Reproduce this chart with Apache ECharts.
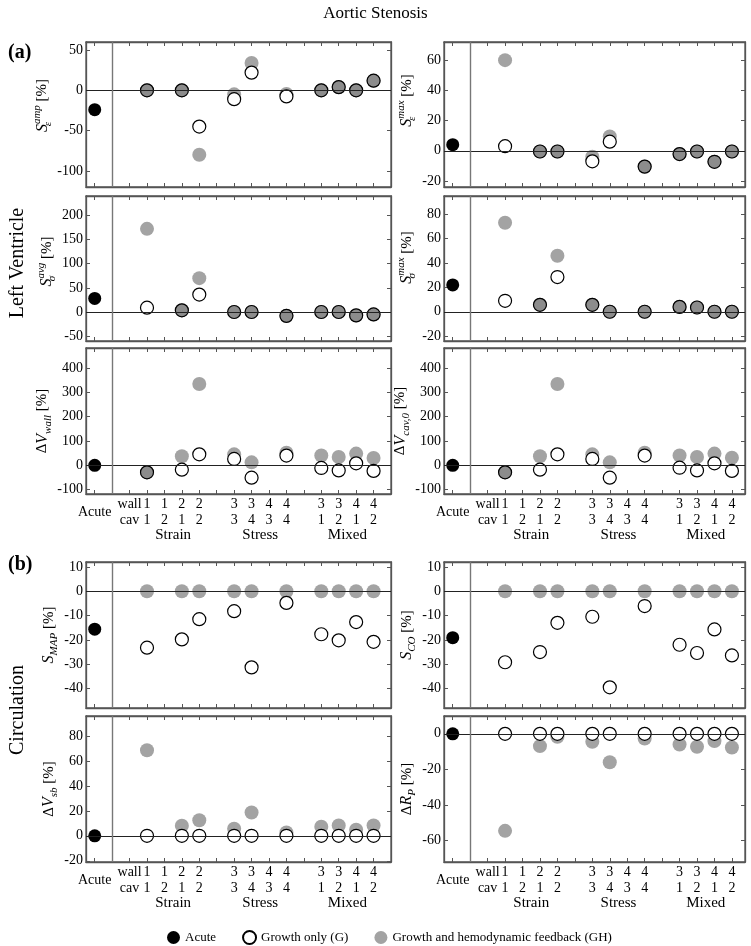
<!DOCTYPE html>
<html><head><meta charset="utf-8">
<script src="https://cdn.jsdelivr.net/npm/echarts@6/dist/echarts.min.js"></script>
<style>html,body{margin:0;padding:0;background:#fff}#c{width:751px;height:946px}</style>
</head><body><div id="c"></div>
<script>
// ---------- data ----------
const wallLabels = ['1','1','2','2','3','3','4','4','3','3','4','4'];
const cavLabels  = ['1','2','1','2','3','4','3','4','1','2','1','2'];
const groupNames = ['Strain','Stress','Mixed'];
const legendNames = ['Acute','Growth only (G)','Growth and hemodynamic feedback (GH)'];

// order: (1,1)(1,2)(2,1)(2,2) (3,3)(3,4)(4,3)(4,4) (3,1)(3,2)(4,1)(4,2)
const seAmpAcute = -24;
const seAmpG  = [0,null,0,-45,-11,22,null,-7.5,0,4,0,12];
const seAmpGH = [0,null,0,-80,-5,34,null,-4.5,0,4,0,12];
const seAmpTicks = [-100,-50,0,50];

const seMaxAcute = 4;
const seMaxG  = [3,null,-0.5,-0.5,-7,6,null,-10.5,-2.2,-0.5,-7.3,-0.5];
const seMaxGH = [60,null,-0.5,-0.5,-4,9.5,null,-10.5,-2.2,-0.5,-7.3,-0.5];
const seMaxTicks = [-20,0,20,40,60];

const ssAvgAcute = 28;
const ssAvgG  = [9,null,3.5,36,0,0,null,-8,0,0,-7,-5];
const ssAvgGH = [172,null,3.5,70,0,0,null,-8,0,0,-7,-5];
const ssAvgTicks = [-50,0,50,100,150,200];

const ssMaxAcute = 22;
const ssMaxG  = [9,null,5.7,28.5,5.7,0,null,0,4,3.5,0,0];
const ssMaxGH = [73,null,5.7,46,5.7,0,null,0,4,3.5,0,0];
const ssMaxTicks = [-20,0,20,40,60,80];

const dVwallAcute = 0;
const dVwallG  = [-29,null,-18,45,26,-51,null,40,-11,-21,8,-23];
const dVwallGH = [-29,null,37,334,45,12,null,52,40,34,48,30];
const dVwallTicks = [-100,0,100,200,300,400];

const dVcavAcute = 0;
const dVcavG  = [-29,null,-18,45,26,-51,null,40,-10,-21,8,-23];
const dVcavGH = [-29,null,37,334,45,12,null,52,40,34,48,31];
const dVcavTicks = [-100,0,100,200,300,400];

const sMapAcute = -15.6;
const sMapG  = [-23.2,null,-19.8,-11.5,-8.2,-31.3,null,-4.8,-17.7,-20.2,-12.7,-20.8];
const sMapGH = [0,null,0,0,0,0,null,0,0,0,0,0];
const sMapTicks = [-40,-30,-20,-10,0,10];

const sCoAcute = -19.1;
const sCoG  = [-29.2,null,-25,-13,-10.5,-39.5,null,-6.1,-22,-25.4,-15.7,-26.4];
const sCoGH = [0,null,0,0,0,0,null,0,0,0,0,0];
const sCoTicks = [-40,-30,-20,-10,0,10];

const dVsbAcute = 0;
const dVsbG  = [0,null,0,0,0,0,null,0,0,0,0,0];
const dVsbGH = [68.6,null,8,12.5,5.6,18.7,null,2.7,7.2,8.3,4.8,8.3];
const dVsbTicks = [-20,0,20,40,60,80];

const dRpAcute = 0;
const dRpG  = [0,null,0,0,0,0,null,0,0,0,0,0];
const dRpGH = [-54.5,null,-6.9,-1.7,-4.5,-16,null,-2.6,-6,-7.3,-4.1,-7.7];
const dRpTicks = [-60,-40,-20,0];

// ---------- layout ----------
const FONT = "'Liberation Serif', 'DejaVu Serif', serif";
const rows = [{top:42,h:145},{top:196,h:145},{top:348,h:146},{top:562,h:146},{top:716,h:146}];
const cols = [{left:86,w:305,max:17},{left:444,w:301,max:16.75}];
const xPosOf = i => 3 + i + Math.floor(i/4);

const panels = [
  {r:0,c:0,name:'{it|S}{sb0|ε}{sp|amp}{rm| [%]}',shift:18,min:-120,max:60,ticks:seAmpTicks,acute:seAmpAcute,g:seAmpG,gh:seAmpGH},
  {r:0,c:1,name:'{it|S}{sb0|ε}{sp|max}{rm| [%]}',shift:28,min:-24,max:72,ticks:seMaxTicks,acute:seMaxAcute,g:seMaxG,gh:seMaxGH},
  {r:1,c:0,name:'{it|S}{sb0|σ}{sp|avg}{rm| [%]}',shift:14,min:-60,max:240,ticks:ssAvgTicks,acute:ssAvgAcute,g:ssAvgG,gh:ssAvgGH},
  {r:1,c:1,name:'{it|S}{sb0|σ}{sp|max}{rm| [%]}',shift:22,min:-24,max:95,ticks:ssMaxTicks,acute:ssMaxAcute,g:ssMaxG,gh:ssMaxGH},
  {r:2,c:0,name:'{rm|Δ}{it|V}{sb|wall}{rm| [%]}',shift:0,min:-118,max:482,ticks:dVwallTicks,acute:dVwallAcute,g:dVwallG,gh:dVwallGH},
  {r:2,c:1,name:'{rm|Δ}{it|V}{sb|cav,0}{rm| [%]}',shift:0,min:-118,max:482,ticks:dVcavTicks,acute:dVcavAcute,g:dVcavG,gh:dVcavGH},
  {r:3,c:0,name:'{it|S}{sb|MAP}{rm| [%]}',shift:0,min:-48,max:12,ticks:sMapTicks,acute:sMapAcute,g:sMapG,gh:sMapGH},
  {r:3,c:1,name:'{it|S}{sb|CO}{rm| [%]}',shift:0,min:-48,max:12,ticks:sCoTicks,acute:sCoAcute,g:sCoG,gh:sCoGH},
  {r:4,c:0,name:'{rm|Δ}{it|V}{sb|sb}{rm| [%]}',shift:0,min:-21,max:96,ticks:dVsbTicks,acute:dVsbAcute,g:dVsbG,gh:dVsbGH},
  {r:4,c:1,name:'{rm|Δ}{it|R}{sb|P}{rm| [%]}',shift:0,min:-72,max:10,ticks:dRpTicks,acute:dRpAcute,g:dRpG,gh:dRpGH}
];

const nameRich = {
  it:{fontFamily:FONT,fontStyle:'italic',fontSize:16,lineHeight:22,color:'#000'},
  rm:{fontFamily:FONT,fontSize:15,lineHeight:22,color:'#000'},
  sb:{fontFamily:FONT,fontStyle:'italic',fontSize:11,lineHeight:12,verticalAlign:'bottom',color:'#000'},
  sb0:{fontFamily:FONT,fontStyle:'italic',fontSize:11,lineHeight:12,verticalAlign:'bottom',width:0,color:'#000'},
  sp:{fontFamily:FONT,fontStyle:'italic',fontSize:11,lineHeight:16,verticalAlign:'top',color:'#000'}
};

const tickX = []; for (let v = 0; v <= 16; v++) tickX.push(v);
const labelMap = {0:'{ac|Acute}', 2:'wall\ncav'};
wallLabels.forEach((w,i)=>{ labelMap[xPosOf(i)] = w + '\n' + cavLabels[i]; });
const labelX = Object.keys(labelMap).map(Number);
const groupX = groupNames.map((g,k)=> 4.5 + 5*k);

const FRAME = '#555';
const grid = [], xAxis = [], yAxis = [], series = [];

panels.forEach(p => {
  const R = rows[p.r], C = cols[p.c];
  const gi = grid.length;
  grid.push({left:C.left, top:R.top, width:C.w, height:R.h, show:true, borderColor:FRAME, borderWidth:1.3, backgroundColor:'rgba(0,0,0,0)'});
  const isBottom = (p.r === 2 || p.r === 4);
  const xb = xAxis.length;
  const axLine = {show:true, onZero:false, lineStyle:{color:FRAME, width:1.3}};
  xAxis.push({type:'value', gridIndex:gi, min:-0.5, max:C.max, position:'bottom',
    axisLine:axLine, splitLine:{show:false},
    axisTick:{show:true, inside:true, length:4, customValues:tickX, lineStyle:{color:FRAME}},
    axisLabel:{show:isBottom, customValues:labelX, margin:2, fontFamily:FONT, fontSize:14, lineHeight:16, color:'#000',
      formatter: v => labelMap[v] || '',
      rich:{ac:{fontFamily:FONT, fontSize:14, lineHeight:32, color:'#000'}}}});
  xAxis.push({type:'value', gridIndex:gi, min:-0.5, max:C.max, position:'top',
    axisLine:axLine, splitLine:{show:false},
    axisTick:{show:true, inside:true, length:4, customValues:tickX, lineStyle:{color:FRAME}},
    axisLabel:{show:false}});
  const yl = yAxis.length;
  yAxis.push({type:'value', gridIndex:gi, min:p.min, max:p.max, position:'left',
    name:p.name, nameLocation:'middle', nameGap:26,
    nameTextStyle:{rich:nameRich, fontFamily:FONT, padding:[0,0,0,p.shift]},
    axisLine:axLine, splitLine:{show:false},
    axisTick:{show:true, inside:true, length:4, customValues:p.ticks, lineStyle:{color:FRAME}},
    axisLabel:{customValues:p.ticks, margin:3, fontFamily:FONT, fontSize:14, color:'#000'}});
  yAxis.push({type:'value', gridIndex:gi, min:p.min, max:p.max, position:'right',
    axisLine:axLine, splitLine:{show:false},
    axisTick:{show:true, inside:true, length:4, customValues:p.ticks, lineStyle:{color:FRAME}},
    axisLabel:{show:false}});

  // reference lines: zero line and Acute separator
  series.push({type:'scatter', xAxisIndex:xb, yAxisIndex:yl, data:[], silent:true, z:1,
    markLine:{silent:true, animation:false, symbol:['none','none'], label:{show:false},
      data:[{yAxis:0, lineStyle:{color:'#222', width:1, type:'solid'}},
            {xAxis:1, lineStyle:{color:'#777', width:1.4, type:'solid'}}]}});
  const ghData = [], gData = [];
  p.gh.forEach((v,i)=>{ if (v != null) ghData.push([xPosOf(i), v]); });
  p.g.forEach((v,i)=>{ if (v != null) {
    const same = p.gh[i] === v;
    gData.push({value:[xPosOf(i), v], itemStyle:{color: same ? '#8c8c8c' : '#fff', opacity:1}});
  }});
  series.push({type:'scatter', name:legendNames[2], xAxisIndex:xb, yAxisIndex:yl, data:ghData,
    symbol:'circle', symbolSize:14, itemStyle:{color:'#a3a3a3', opacity:1}, z:2, emphasis:{disabled:true}});
  series.push({type:'scatter', name:legendNames[1], xAxisIndex:xb, yAxisIndex:yl, data:gData,
    symbol:'circle', symbolSize:13, itemStyle:{color:'#fff', borderColor:'#000', borderWidth:1.2, opacity:1}, z:3, emphasis:{disabled:true}});
  series.push({type:'scatter', name:legendNames[0], xAxisIndex:xb, yAxisIndex:yl, data:[[0, p.acute]],
    symbol:'circle', symbolSize:13, itemStyle:{color:'#000', opacity:1}, z:4, emphasis:{disabled:true}});

  if (isBottom) {
    const gg = grid.length;
    grid.push({left:C.left, top:R.top, width:C.w, height:R.h, show:false});
    xAxis.push({type:'value', gridIndex:gg, min:-0.5, max:C.max, position:'bottom',
      axisLine:{show:false, onZero:false}, axisTick:{show:false}, splitLine:{show:false},
      axisLabel:{customValues:groupX, margin:34, fontFamily:FONT, fontSize:15, color:'#000',
        formatter: v => groupNames[Math.round((v-4.5)/5)]}});
    yAxis.push({type:'value', gridIndex:gg, min:p.min, max:p.max, show:false});
  }
});

const option = {
  animation:false,
  backgroundColor:'#fff',
  textStyle:{fontFamily:FONT},
  title:[
    {text:'Aortic Stenosis', left:'center', top:0, textStyle:{fontFamily:FONT, fontSize:17, fontWeight:'normal', color:'#000'}},
    {text:'(a)', left:3, top:38, textStyle:{fontFamily:FONT, fontSize:20, fontWeight:'bold', color:'#000'}},
    {text:'(b)', left:3, top:550, textStyle:{fontFamily:FONT, fontSize:20, fontWeight:'bold', color:'#000'}}
  ],
  legend:{data:legendNames, left:162, top:925, itemWidth:13, itemHeight:13, itemGap:26, selectedMode:false,
    textStyle:{fontFamily:FONT, fontSize:13, color:'#000'}},
  graphic:[
    {type:'text', x:18, y:263, rotation:Math.PI/2,
      style:{text:'Left Ventricle', font:"20px 'Liberation Serif', serif", textAlign:'center', textVerticalAlign:'middle', align:'center', verticalAlign:'middle', fill:'#000'}},
    {type:'text', x:18, y:710, rotation:Math.PI/2,
      style:{text:'Circulation', font:"20px 'Liberation Serif', serif", textAlign:'center', textVerticalAlign:'middle', align:'center', verticalAlign:'middle', fill:'#000'}}
  ],
  grid, xAxis, yAxis, series
};
echarts.init(document.getElementById('c')).setOption(option);
</script></body></html>
